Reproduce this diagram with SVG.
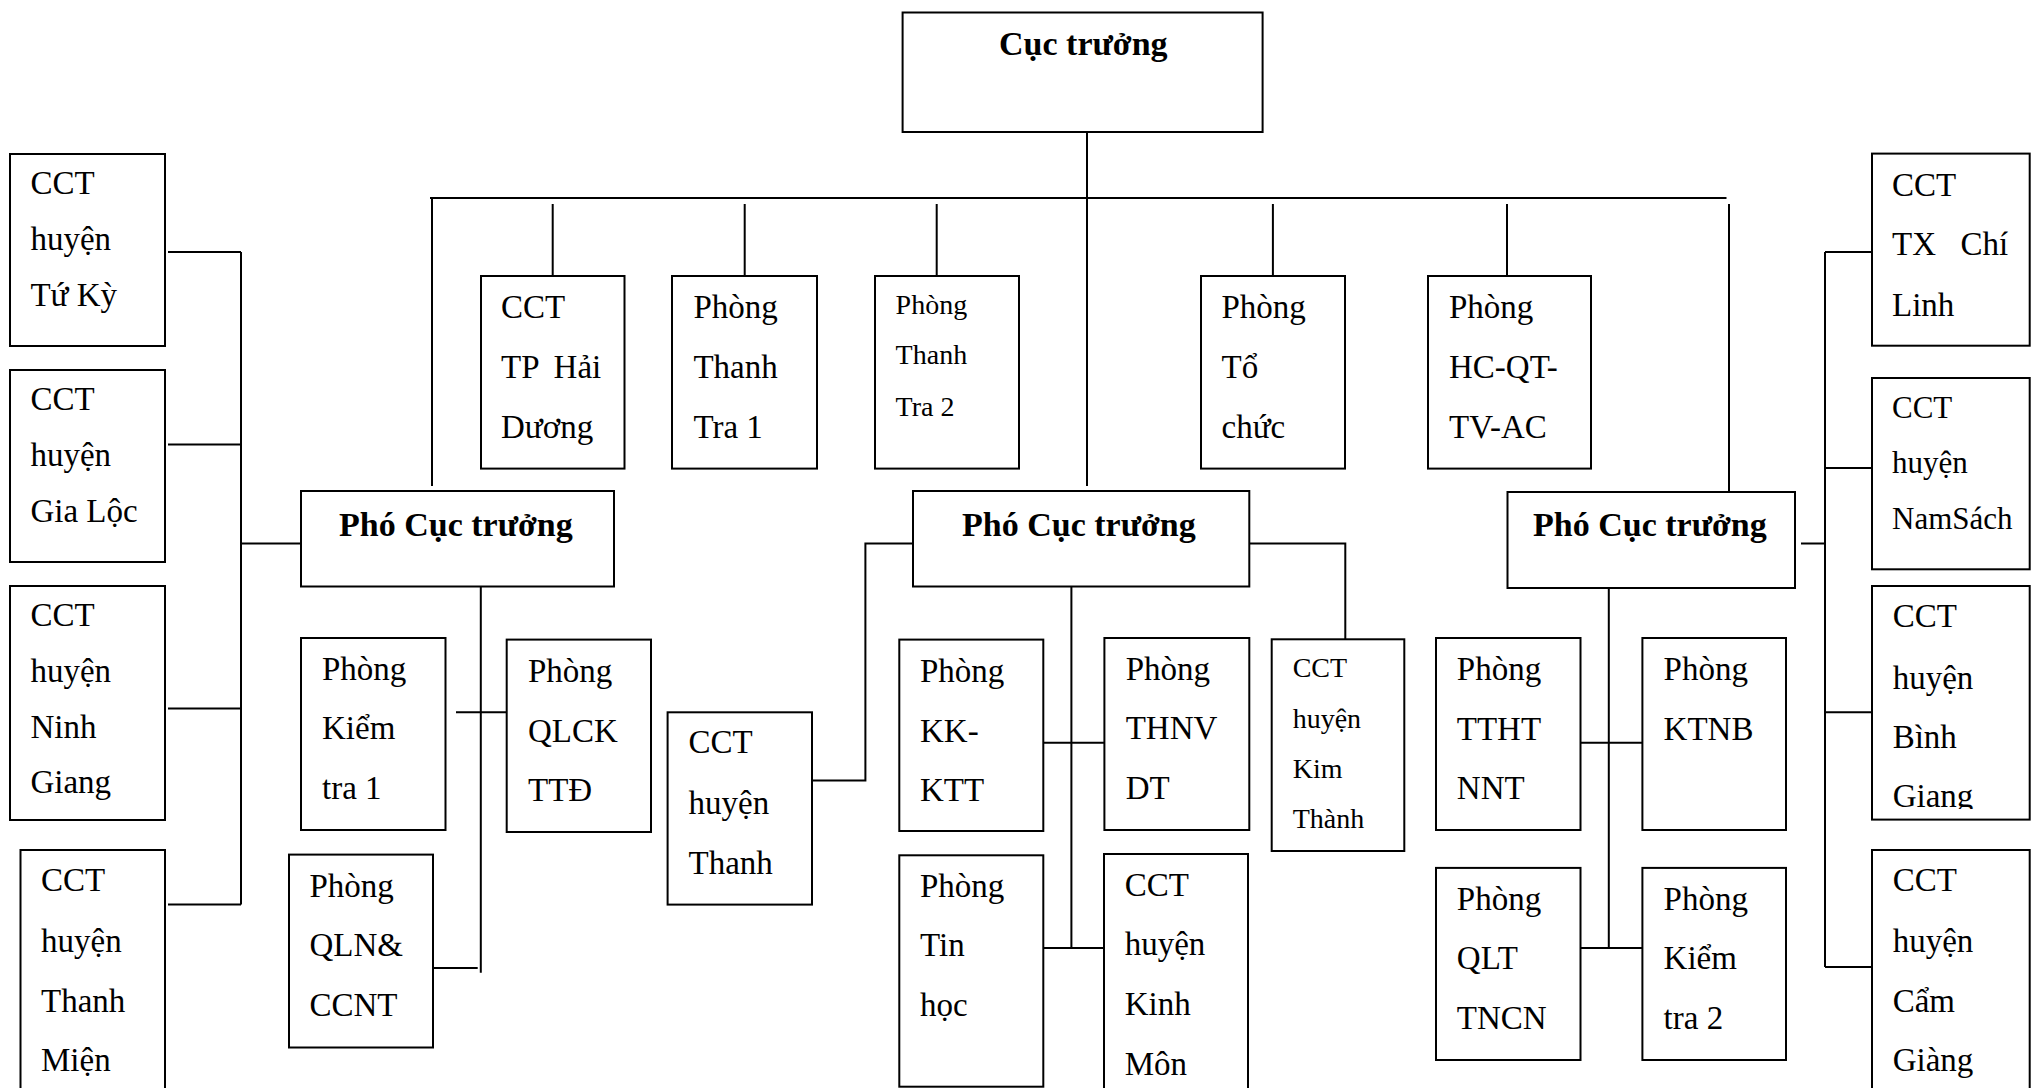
<svg xmlns="http://www.w3.org/2000/svg" width="2031" height="1088" viewBox="0 0 2031 1088">
<style>
rect{fill:#fff;stroke:#000;stroke-width:2}
.c path{fill:none;stroke:#000;stroke-width:2}
text{font-family:"Liberation Serif","Times New Roman",serif;font-size:33px;fill:#000}
.b{font-weight:bold;font-size:34px}
.s{font-size:28px}
.m{font-size:31px}
</style>
<defs>
<clipPath id="clipBG"><rect x="1872" y="586" width="158" height="223"/></clipPath>
</defs>
<rect x="0" y="0" width="2031" height="1088" style="stroke:none"/>
<g class="c">
<path d="M1087 132V486"/>
<path d="M430 198H1726.5"/>
<path d="M432 198V486"/>
<path d="M552.7 204V276M744.7 204V276M936.7 204V276M1272.9 204V276M1507 204V276"/>
<path d="M1729 204V492"/>
<path d="M241 252V904.6M168 252H241M168 444.6H241M168 708.5H241M168 904.6H241M241 543.6H301"/>
<path d="M480.8 586.5V972.7M456 712.3H506.7M433 968H477.7"/>
<path d="M913 543.5H865.4V780.5H812"/>
<path d="M1249.3 543.5H1345.3V639.3"/>
<path d="M1071.4 586.5V948M1043.3 742.7H1104.4M1043.3 948H1104"/>
<path d="M1801 543.5H1825M1825 252V967M1825 252H1872M1825 468H1872M1825 712.3H1872M1825 967H1872"/>
<path d="M1608.8 588V948M1580.5 742.7H1642.4M1580.5 948H1642.4"/>
</g>
<g id="cuc-truong"><rect x="902.6" y="12.5" width="360" height="119.5"/><text class="b" x="999" y="55">Cục trưởng</text></g>
<g id="pho-left"><rect x="301" y="491" width="313" height="95.5"/><text class="b" x="339" y="536">Phó Cục trưởng</text></g>
<g id="pho-mid"><rect x="913" y="491" width="336.3" height="95.5"/><text class="b" x="962" y="536">Phó Cục trưởng</text></g>
<g id="pho-right"><rect x="1507.5" y="492" width="287.5" height="96"/><text class="b" x="1533" y="536">Phó Cục trưởng</text></g>
<g id="tu-ky"><rect x="10" y="154" width="155" height="192"/><text x="30.4" y="194">CCT</text><text x="30.4" y="250">huyện</text><text x="30.4" y="306">Tứ Kỳ</text></g>
<g id="gia-loc"><rect x="10" y="370" width="155" height="192"/><text x="30.4" y="410">CCT</text><text x="30.4" y="466">huyện</text><text x="30.4" y="522">Gia Lộc</text></g>
<g id="ninh-giang"><rect x="10" y="586" width="155" height="234"/><text x="30.4" y="625.6">CCT</text><text x="30.4" y="681.6">huyện</text><text x="30.4" y="737.5">Ninh</text><text x="30.4" y="793.4">Giang</text></g>
<g id="thanh-mien"><rect x="20.5" y="850" width="144.5" height="260"/><text x="41" y="891">CCT</text><text x="41" y="952">huyện</text><text x="41" y="1012">Thanh</text><text x="41" y="1071">Miện</text></g>
<g id="hai-duong"><rect x="481" y="276" width="143.5" height="192.6"/><text x="501" y="318">CCT</text><text x="501" y="378">TP</text><text x="553.6" y="378">Hải</text><text x="501" y="437.5">Dương</text></g>
<g id="thanh-tra-1"><rect x="672" y="276" width="145" height="192.6"/><text x="693.4" y="318">Phòng</text><text x="693.4" y="378">Thanh</text><text x="693.4" y="437.5">Tra 1</text></g>
<g id="thanh-tra-2"><rect x="875" y="276" width="144" height="192.6"/><text class="s" x="895.6" y="314">Phòng</text><text class="s" x="895.6" y="364">Thanh</text><text class="s" x="895.6" y="416">Tra 2</text></g>
<g id="to-chuc"><rect x="1201" y="276" width="144" height="192.6"/><text x="1221.5" y="318">Phòng</text><text x="1221.5" y="378">Tổ</text><text x="1221.5" y="437.5">chức</text></g>
<g id="hc-qt"><rect x="1428" y="276" width="163" height="192.6"/><text x="1449" y="318">Phòng</text><text x="1449" y="378">HC-QT-</text><text x="1449" y="437.5">TV-AC</text></g>
<g id="chi-linh"><rect x="1872" y="153.6" width="157.7" height="192.1"/><text x="1892" y="196">CCT</text><text x="1892" y="255">TX</text><text x="1960.5" y="255">Chí</text><text x="1892" y="316">Linh</text></g>
<g id="nam-sach"><rect x="1872" y="378" width="157.7" height="191.3"/><text class="m" x="1892" y="418">CCT</text><text class="m" x="1892" y="473">huyện</text><text class="m" x="1892" y="528.6">NamSách</text></g>
<g id="binh-giang"><rect x="1872" y="586" width="157.7" height="233.6"/><text x="1892.7" y="627.4">CCT</text><text x="1892.7" y="688.5">huyện</text><text x="1892.7" y="748">Bình</text><text x="1892.7" y="807.4" clip-path="url(#clipBG)">Giang</text></g>
<g id="cam-giang"><rect x="1872" y="850" width="157.7" height="260"/><text x="1892.7" y="891">CCT</text><text x="1892.7" y="952.4">huyện</text><text x="1892.7" y="1012">Cẩm</text><text x="1892.7" y="1071.3">Giàng</text></g>
<g id="kiem-tra-1"><rect x="301" y="638" width="144.5" height="192"/><text x="322" y="680">Phòng</text><text x="322" y="739">Kiểm</text><text x="322" y="799">tra 1</text></g>
<g id="qlck"><rect x="506.7" y="639.6" width="144.3" height="192.4"/><text x="528" y="681.6">Phòng</text><text x="528" y="741.7">QLCK</text><text x="528" y="801">TTĐ</text></g>
<g id="qln"><rect x="289" y="854.6" width="144" height="192.9"/><text x="309.4" y="897">Phòng</text><text x="309.4" y="956">QLN&amp;</text><text x="309.4" y="1016">CCNT</text></g>
<g id="thanh"><rect x="667.6" y="712.3" width="144.4" height="192.3"/><text x="688.5" y="753">CCT</text><text x="688.5" y="813.7">huyện</text><text x="688.5" y="873.8">Thanh</text></g>
<g id="kk-ktt"><rect x="899.3" y="639.6" width="144" height="191.4"/><text x="920" y="681.6">Phòng</text><text x="920" y="741.7">KK-</text><text x="920" y="801.4">KTT</text></g>
<g id="thnv"><rect x="1104.4" y="638" width="144.9" height="192"/><text x="1125.7" y="680">Phòng</text><text x="1125.7" y="739">THNV</text><text x="1125.7" y="799">DT</text></g>
<g id="kim-thanh"><rect x="1271.7" y="639.3" width="132.6" height="211.7"/><text class="s" x="1292.7" y="676.7">CCT</text><text class="s" x="1292.7" y="728.3">huyện</text><text class="s" x="1292.7" y="778.3">Kim</text><text class="s" x="1292.7" y="828.3">Thành</text></g>
<g id="tin-hoc"><rect x="899.3" y="855.3" width="144" height="231.4"/><text x="920" y="897">Phòng</text><text x="920" y="956">Tin</text><text x="920" y="1016">học</text></g>
<g id="kinh-mon"><rect x="1104" y="854" width="144" height="260"/><text x="1124.7" y="896">CCT</text><text x="1124.7" y="955">huyện</text><text x="1124.7" y="1015">Kinh</text><text x="1124.7" y="1075">Môn</text></g>
<g id="ttht"><rect x="1436" y="638" width="144.5" height="192"/><text x="1456.8" y="680">Phòng</text><text x="1456.8" y="740">TTHT</text><text x="1456.8" y="799">NNT</text></g>
<g id="ktnb"><rect x="1642.4" y="638" width="143.6" height="192"/><text x="1663.6" y="680">Phòng</text><text x="1663.6" y="740">KTNB</text></g>
<g id="qlt"><rect x="1436" y="867.9" width="144.5" height="192.1"/><text x="1456.8" y="910">Phòng</text><text x="1456.8" y="969">QLT</text><text x="1456.8" y="1028.6">TNCN</text></g>
<g id="kiem-tra-2"><rect x="1642.4" y="867.9" width="143.6" height="192.1"/><text x="1663.6" y="910">Phòng</text><text x="1663.6" y="969">Kiểm</text><text x="1663.6" y="1028.6">tra 2</text></g>
</svg>
